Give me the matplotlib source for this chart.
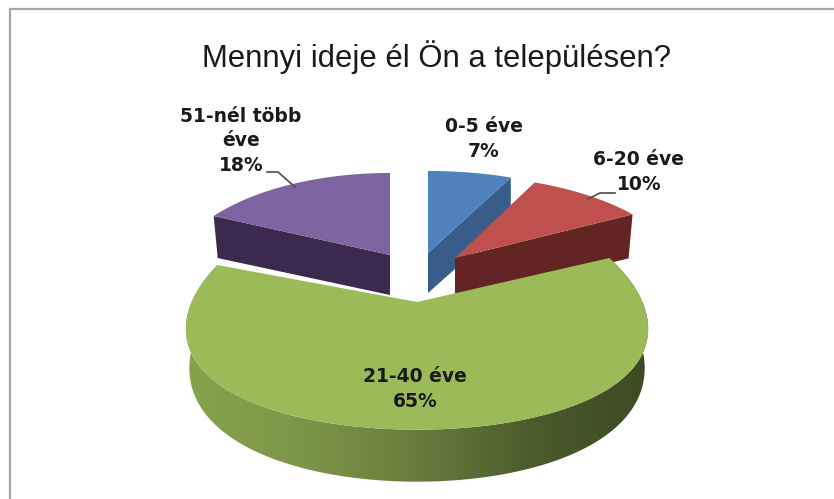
"""
Mennyi ideje él Ön a településen? - exploded 3D-look pie
"""

import numpy as np
import matplotlib
matplotlib.use('Agg')
import matplotlib.pyplot as plt
from matplotlib.colors import LinearSegmentedColormap
from matplotlib.patches import Polygon

title = 'Mennyi ideje él Ön a településen?'
categories = ['0-5 éve', '6-20 éve', '21-40 éve', '51-nél több\néve']
values = [7, 10, 65, 18]

top_colors = ['#4f81bd', '#c0504d', '#9bbb59', '#8064a2']
side_colors = ['#385d8a', '#632523', '#6b8440', '#3b2a4d']

# where each slice sits on the page, and how the "tilted disc" is squashed
apexes = [(428, 253), (455, 258), (417, 302), (390, 255)]
radius_x = [233, 224, 230, 213]
radius_y = [100, 100, 119, 100]
persp_x = [0.219, 0.219, 0.10, 0.219]
persp_y = [0.219, 0.219, 0.068, 0.219]
shoulder = [0, 0, 15, 0]
depths = [42, 44, 47, 42]

label_pos = [(484, 139), (639, 172), (415, 389), (241, 141)]


def slice_arc(i, start, end):
    # angles in degrees clockwise from 12 o'clock
    t = np.radians(np.linspace(start, end, 200))
    sx, cy = np.sin(t), np.cos(t)
    x = apexes[i][0] + radius_x[i] * sx / (1 + persp_x[i] * cy)
    y = apexes[i][1] - radius_y[i] * cy / (1 + persp_y[i] * cy) + shoulder[i] * sx ** 2
    return x, y, cy


fig = plt.figure(figsize=(8.34, 4.99), dpi=100)
ax = fig.add_axes([0, 0, 1, 1])

bounds = np.concatenate([[0], np.cumsum(values)]) * 3.6

arcs = []
for i in range(len(values)):
    arcs.append(slice_arc(i, bounds[i], bounds[i + 1]))

# radial side walls of the back slices: (slice, arc end to use)
for i, end in [(3, 0), (0, -1), (1, -1)]:
    ax_pt = apexes[i]
    x, y, _ = arcs[i]
    d = depths[i]
    inset = 4 if x[end] > ax_pt[0] else -4
    if i == 0:
        inset = 0
    ax.add_patch(Polygon([(x[end], y[end]), ax_pt, (ax_pt[0], ax_pt[1] + d - 2), (x[end] - inset, y[end] + d)],
                         facecolor=side_colors[i], edgecolor='none', zorder=2 if i != 1 else 4))

for i in [0, 1, 3]:
    x, y, _ = arcs[i]
    ax.add_patch(Polygon(np.column_stack([np.r_[apexes[i][0], x], np.r_[apexes[i][1], y]]),
                         facecolor=top_colors[i], edgecolor='none', zorder=3 if i != 1 else 4))

# green rim with horizontal shading
x, y, cy = arcs[2]
rim = 38 - 14 * cy
rim_x = apexes[2][0] + (x - apexes[2][0]) * 0.985
rim_poly = Polygon(np.column_stack([np.r_[x, rim_x[::-1]], np.r_[y, (y + rim)[::-1]]]),
                   facecolor='none', edgecolor='none', zorder=5)
ax.add_patch(rim_poly)
shade = LinearSegmentedColormap.from_list('rim', ['#86a34d', '#7c9648', '#677d3b', '#4b5b2c', '#3d4923'])
im = ax.imshow(np.linspace(0, 1, 256).reshape(1, -1), cmap=shade, aspect='auto',
               extent=(185, 650, 490, 250), zorder=5)
im.set_clip_path(rim_poly)

ax.add_patch(Polygon(np.column_stack([np.r_[apexes[2][0], x], np.r_[apexes[2][1], y]]),
                     facecolor=top_colors[2], edgecolor='none', zorder=6))

# frame: only left and top are visible
ax.plot([10, 10, 834], [499, 9, 9], color='#a6a6a6', lw=1.6, zorder=1)

ax.text(437, 57, title, ha='center', va='center', fontsize=22.3,
        family='Liberation Sans', color='#1a1a1a')

for i, name in enumerate(categories):
    ax.text(label_pos[i][0], label_pos[i][1], f'{name}\n{values[i]}%', ha='center', va='center',
            fontsize=13.5, fontweight='bold', family='DejaVu Sans', color='#1a1a1a',
            linespacing=1.35, zorder=7)

# leader lines
ax.plot([267, 278, 295], [172, 172, 187], color='#4d4d4d', lw=1.2, zorder=7)
ax.plot([588, 600, 615], [199, 193, 193], color='#4d4d4d', lw=1.2, zorder=7)

ax.set_xlim(0, 834)
ax.set_ylim(499, 0)
ax.axis('off')

fig.savefig('out.png', dpi=100)
